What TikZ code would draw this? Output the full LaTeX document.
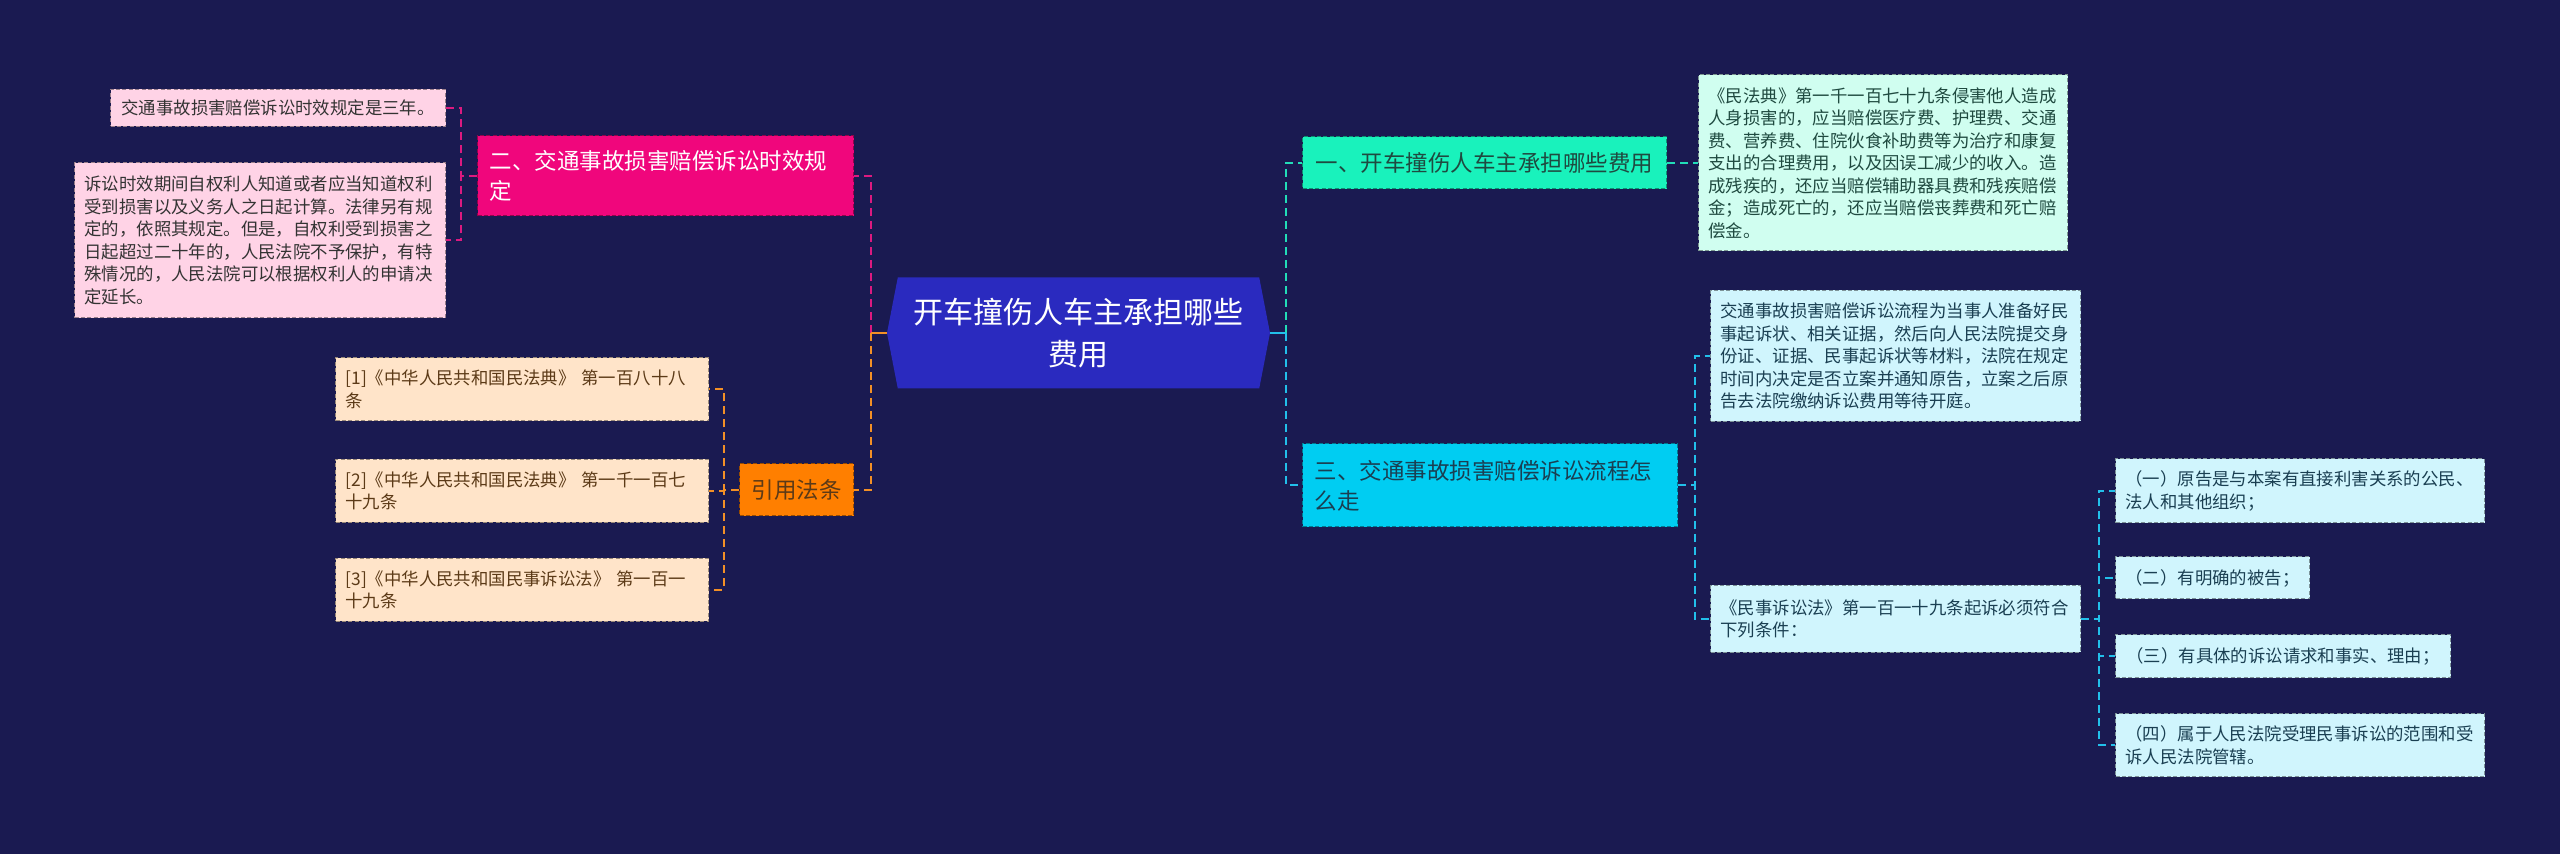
\documentclass[tikz,border=0pt]{standalone}
\usepackage{fontspec}
\setmainfont{Noto Sans CJK SC}
\usetikzlibrary{shapes.symbols}

\definecolor{bgnavy}{HTML}{1A1A51}
\definecolor{rootblue}{HTML}{2A2ABF}
\definecolor{pinkhead}{HTML}{F0067C}
\definecolor{pinkleaf}{HTML}{FFD3E6}
\definecolor{pinkline}{HTML}{DC1A80}
\definecolor{orangehead}{HTML}{FF7F00}
\definecolor{peachleaf}{HTML}{FFE4C9}
\definecolor{orangeline}{HTML}{F39026}
\definecolor{greenhead}{HTML}{19F2BC}
\definecolor{mintleaf}{HTML}{D0FEF0}
\definecolor{tealline}{HTML}{22DDB8}
\definecolor{cyanhead}{HTML}{00CDF2}
\definecolor{cyanleaf}{HTML}{D0F5FD}
\definecolor{cyanline}{HTML}{22BFEA}
\definecolor{darktext}{HTML}{333333}
\definecolor{browntext}{HTML}{5C3A17}
\definecolor{tealtext}{HTML}{1F4A40}
\definecolor{bluetext}{HTML}{1A3F52}

\begin{document}
\begin{tikzpicture}[x=0.5pt, y=-0.5pt,
    cardbox/.style={draw=#1!60!black, fill=#1, line width=0.5pt,
        dash pattern=on 2pt off 1.2pt, align=left, inner xsep=5pt, inner ysep=5pt},
    leaf/.style={cardbox=#1, font=\fontsize{8.7pt}{11.25pt}\selectfont},
    head/.style={cardbox=#1, inner xsep=6pt, font=\fontsize{11.25pt}{15pt}\selectfont},
    link/.style={draw=#1, line width=1pt, dash pattern=on 4pt off 2.5pt},
    stub/.style={draw=#1, line width=1pt},
    rootnode/.style={signal, signal to=east and west, signal pointer angle=158,
        fill=rootblue, text=white, align=center, inner sep=0pt,
        minimum width=191.5pt, minimum height=55.5pt,
        font=\fontsize{15pt}{21pt}\selectfont}]

    \fill[bgnavy] (0,0) rectangle (2560,854);

    % root
    \node[rootnode] (root) at (1078.5,333) {开车撞伤人车主承担哪些\\费用};

    % === left: 时效 (pink) ===
    \node[head=pinkhead, text=white, anchor=east, text width=176pt, minimum height=40pt] (limitHead) at (854,176) {二、交通事故损害赔偿诉讼时效规\\定};
    \node[leaf=pinkleaf, text=darktext, anchor=east, minimum width=167.5pt, minimum height=18.5pt] (limitA) at (446,108) {交通事故损害赔偿诉讼时效规定是三年。};
    \node[leaf=pinkleaf, text=darktext, anchor=east, text width=175.5pt, minimum height=77.5pt] (limitB) at (446,240.5) {诉讼时效期间自权利人知道或者应当知道权利\\受到损害以及义务人之日起计算。法律另有规\\定的，依照其规定。但是，自权利受到损害之\\日起超过二十年的，人民法院不予保护，有特\\殊情况的，人民法院可以根据权利人的申请决\\定延长。};

    % === left: 引用法条 (orange) ===
    \node[head=orangehead, text=browntext, anchor=east, minimum width=57pt, minimum height=26pt] (lawHead) at (854,490) {引用法条};
    \node[leaf=peachleaf, text=browntext, anchor=east, text width=176.5pt, minimum height=31.5pt] (law1) at (709,389.5) {[1]《中华人民共和国民法典》 第一百八十八\\条};
    \node[leaf=peachleaf, text=browntext, anchor=east, text width=176.5pt, minimum height=31.5pt] (law2) at (709,491) {[2]《中华人民共和国民法典》 第一千一百七\\十九条};
    \node[leaf=peachleaf, text=browntext, anchor=east, text width=176.5pt, minimum height=31.5pt] (law3) at (709,590) {[3]《中华人民共和国民事诉讼法》 第一百一\\十九条};

    % === right: 费用 (green) ===
    \node[head=greenhead, text=tealtext, anchor=west, minimum width=182pt, minimum height=26pt] (costHead) at (1302,163) {一、开车撞伤人车主承担哪些费用};
    \node[leaf=mintleaf, text=tealtext, anchor=west, text width=174.5pt, minimum height=88pt] (costText) at (1698,163) {《民法典》第一千一百七十九条侵害他人造成\\人身损害的，应当赔偿医疗费、护理费、交通\\费、营养费、住院伙食补助费等为治疗和康复\\支出的合理费用，以及因误工减少的收入。造\\成残疾的，还应当赔偿辅助器具费和残疾赔偿\\金；造成死亡的，还应当赔偿丧葬费和死亡赔\\偿金。};

    % === right: 流程 (cyan) ===
    \node[head=cyanhead, text=bluetext, anchor=west, text width=175.5pt, minimum height=41.5pt] (flowHead) at (1302,485.5) {三、交通事故损害赔偿诉讼流程怎\\么走};
    \node[leaf=cyanleaf, text=bluetext, anchor=west, text width=175pt, minimum height=65.5pt] (flowText) at (1710,356) {交通事故损害赔偿诉讼流程为当事人准备好民\\事起诉状、相关证据，然后向人民法院提交身\\份证、证据、民事起诉状等材料，法院在规定\\时间内决定是否立案并通知原告，立案之后原\\告去法院缴纳诉讼费用等待开庭。};
    \node[leaf=cyanleaf, text=bluetext, anchor=west, text width=175pt, minimum height=33.5pt] (flowLaw) at (1710,619) {《民事诉讼法》第一百一十九条起诉必须符合\\下列条件：};
    \node[leaf=cyanleaf, text=bluetext, anchor=west, text width=174.5pt, minimum height=32pt] (cond1) at (2115,491) {（一）原告是与本案有直接利害关系的公民、\\法人和其他组织；};
    \node[leaf=cyanleaf, text=bluetext, anchor=west, minimum width=96pt, minimum height=21pt] (cond2) at (2115,578) {（二）有明确的被告；};
    \node[leaf=cyanleaf, text=bluetext, anchor=west, minimum width=167.5pt, minimum height=21.5pt] (cond3) at (2115,656.5) {（三）有具体的诉讼请求和事实、理由；};
    \node[leaf=cyanleaf, text=bluetext, anchor=west, text width=174.5pt, minimum height=31.5pt] (cond4) at (2115,745.5) {（四）属于人民法院受理民事诉讼的范围和受\\诉人民法院管辖。};

    % connectors
    \draw[link=pinkline] (root.west) ++(-16,0) |- (limitHead.east);
    \draw[link=orangeline] (root.west) ++(-16,0) |- (lawHead.east);
    \draw[stub=orangeline] (root.west) -- ++(-16,0);
    \draw[link=tealline] (root.east) ++(16,0) |- (costHead.west);
    \draw[link=cyanline] (root.east) ++(16,0) |- (flowHead.west);
    \draw[stub=cyanline] (root.east) -- ++(16,0);

    \foreach \n in {limitA,limitB}
        \draw[link=pinkline] (limitHead.west) -- ++(-16,0) |- (\n.east);
    \foreach \n in {law1,law2,law3}
        \draw[link=orangeline] (lawHead.west) -- ++(-15.5,0) |- (\n.east);
    \draw[link=tealline] (costHead.east) -- (costText.west);
    \foreach \n in {flowText,flowLaw}
        \draw[link=cyanline] (flowHead.east) -- ++(16.5,0) |- (\n.west);
    \foreach \n in {cond1,cond2,cond3,cond4}
        \draw[link=cyanline] (flowLaw.east) -- ++(17.5,0) |- (\n.west);

\end{tikzpicture}
\end{document}
